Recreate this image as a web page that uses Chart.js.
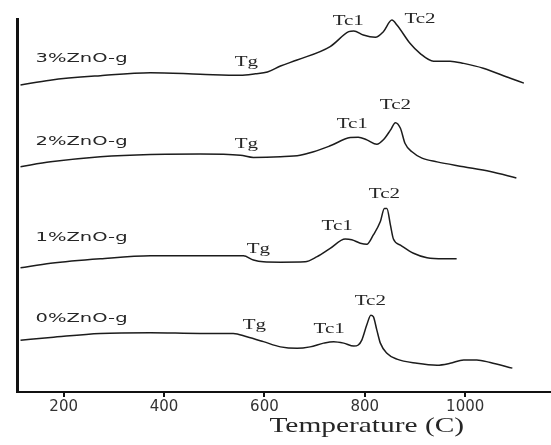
<!DOCTYPE html>
<html>
<head>
<meta charset="utf-8">
<title>DTA curves – ZnO glasses</title>
<script src="https://cdn.jsdelivr.net/npm/chart.js@4.4.1/dist/chart.umd.min.js"></script>
<style>
  html, body { margin: 0; padding: 0; background: #fff; }
  #wrap { position: relative; width: 551px; height: 445px; }
</style>
</head>
<body>
<div id="wrap"><canvas id="dta-chart"></canvas></div>
<script>
// Temperature (C) / DTA signal (a.u.)
const temp3 = [114, 173, 273, 373, 472, 552, 582, 606, 632, 665, 731, 768, 778, 797, 821, 837, 854, 864, 890, 910, 937, 970, 997, 1036, 1090, 1117];
const dta3  = [82.3, 83.6, 84.8, 85.6, 85.2, 84.9, 85.3, 85.8, 87.4, 89.0, 92.6, 96.6, 96.8, 95.7, 95.1, 96.6, 99.7, 98.4, 93.5, 90.8, 88.7, 88.7, 88.1, 86.8, 84.1, 82.8];

const temp2 = [114, 174, 273, 373, 472, 552, 578, 632, 671, 698, 731, 771, 787, 804, 824, 837, 851, 861, 871, 880, 894, 914, 944, 997, 1050, 1102];
const dta2  = [60.4, 61.7, 63.1, 63.7, 63.8, 63.5, 62.9, 63.1, 63.5, 64.4, 66.0, 68.2, 68.3, 67.6, 66.4, 67.6, 70.2, 72.2, 70.7, 66.7, 64.4, 62.7, 61.7, 60.4, 59.1, 57.4];

const temp1 = [114, 174, 273, 373, 472, 558, 578, 598, 632, 681, 705, 731, 761, 774, 791, 804, 817, 831, 839, 844, 851, 857, 871, 897, 924, 957, 983];
const dta1  = [33.3, 34.5, 35.7, 36.5, 36.5, 36.5, 35.4, 34.9, 34.8, 34.9, 36.3, 38.5, 41.0, 40.8, 39.9, 39.6, 42.1, 45.7, 49.2, 49.2, 44.8, 41.0, 39.4, 37.2, 36.0, 35.7, 35.7];

const temp0 = [114, 174, 273, 373, 472, 538, 565, 598, 632, 665, 691, 718, 738, 758, 778, 787, 794, 804, 812, 817, 824, 831, 844, 864, 904, 944, 970, 997, 1023, 1050, 1094];
const dta0  = [13.9, 14.6, 15.7, 15.9, 15.7, 15.7, 14.8, 13.5, 12.1, 11.7, 12.1, 13.1, 13.5, 13.1, 12.3, 12.6, 13.9, 18.0, 20.6, 20.2, 16.6, 13.1, 10.4, 8.8, 7.7, 7.2, 7.7, 8.6, 8.6, 7.9, 6.4];

const xTicks = [200, 400, 600, 800, 1000];

// sample names, in the same order as the traces (top to bottom)
const seriesNames = ['3%ZnO-g', '2%ZnO-g', '1%ZnO-g', '0%ZnO-g'];
const nameT = 144;
const nameV = [89.5, 67.0, 41.3, 19.8];

// transition marks: glass transition, first and second crystallisation
const peakNames = ['Tg', 'Tc1', 'Tc2'];
const peakT = [[564, 767, 910], [564, 775, 861], [588, 745, 839], [580, 729, 811]];
const peakV = [[88.5, 99.5, 100], [66.5, 71.9, 76.9], [38.3, 44.5, 53.1], [18.0, 16.9, 24.4]];

const toPoints = (xs, ys) => xs.map((t, i) => ({ x: t, y: ys[i] }));

const LINE = {
  borderColor: '#1c1c1c',
  borderWidth: 1.5,
  pointRadius: 0,
  cubicInterpolationMode: 'monotone',
  fill: false
};

// draws names and peak labels; the source figure's lettering is wide, so stretch it
const labelPlugin = {
  id: 'dtaLabels',
  afterDraw(chart) {
    const { ctx, chartArea, scales: { x, y } } = chart;
    const put = (text, px, py, font, stretch, align) => {
      ctx.save();
      ctx.translate(px, py);
      ctx.scale(stretch, 1);
      ctx.font = font;
      ctx.fillStyle = '#262626';
      ctx.textAlign = align;
      ctx.textBaseline = 'middle';
      ctx.fillText(text, 0, 0);
      ctx.restore();
    };

    seriesNames.forEach((name, i) => {
      put(name, x.getPixelForValue(nameT), y.getPixelForValue(nameV[i]), '13px "DejaVu Sans"', 1.5, 'left');
      peakNames.forEach((p, j) => {
        put(p, x.getPixelForValue(peakT[i][j]), y.getPixelForValue(peakV[i][j]), '15px "Liberation Serif"', 1.4, 'center');
      });
    });

    put('Temperature (C)', chartArea.left + chartArea.width * 0.655, chartArea.bottom + 34, '21px "Liberation Serif"', 1.4, 'center');
  }
};

new Chart(document.getElementById('dta-chart'), {
  type: 'line',
  data: {
    datasets: [
      { label: seriesNames[0], data: toPoints(temp3, dta3), ...LINE },
      { label: seriesNames[1], data: toPoints(temp2, dta2), ...LINE },
      { label: seriesNames[2], data: toPoints(temp1, dta1), ...LINE },
      { label: seriesNames[3], data: toPoints(temp0, dta0), ...LINE }
    ]
  },
  options: {
    responsive: true,
    maintainAspectRatio: false,
    animation: false,
    layout: { padding: { left: 17, top: 19, right: 0, bottom: 0 } },
    plugins: {
      legend: { display: false },
      tooltip: { enabled: false }
    },
    scales: {
      x: {
        type: 'linear',
        min: 107,
        max: 1171,
        afterBuildTicks: scale => { scale.ticks = xTicks.map(v => ({ value: v })); },
        afterFit: scale => { scale.height = 53; },
        ticks: {
          color: '#333',
          padding: 1,
          font: { family: 'DejaVu Sans', size: 15 },
          callback: v => String(v)
        },
        grid: {
          drawOnChartArea: false,
          drawTicks: true,
          tickLength: 5,
          color: '#111',
          lineWidth: 2
        },
        border: { display: true, color: '#111', width: 2 }
      },
      y: {
        min: 0,
        max: 100,
        afterFit: scale => { scale.width = 0; },
        ticks: { display: false },
        grid: { display: false },
        border: { display: true, color: '#111', width: 3 }
      }
    }
  },
  plugins: [labelPlugin]
});
</script>
</body>
</html>
